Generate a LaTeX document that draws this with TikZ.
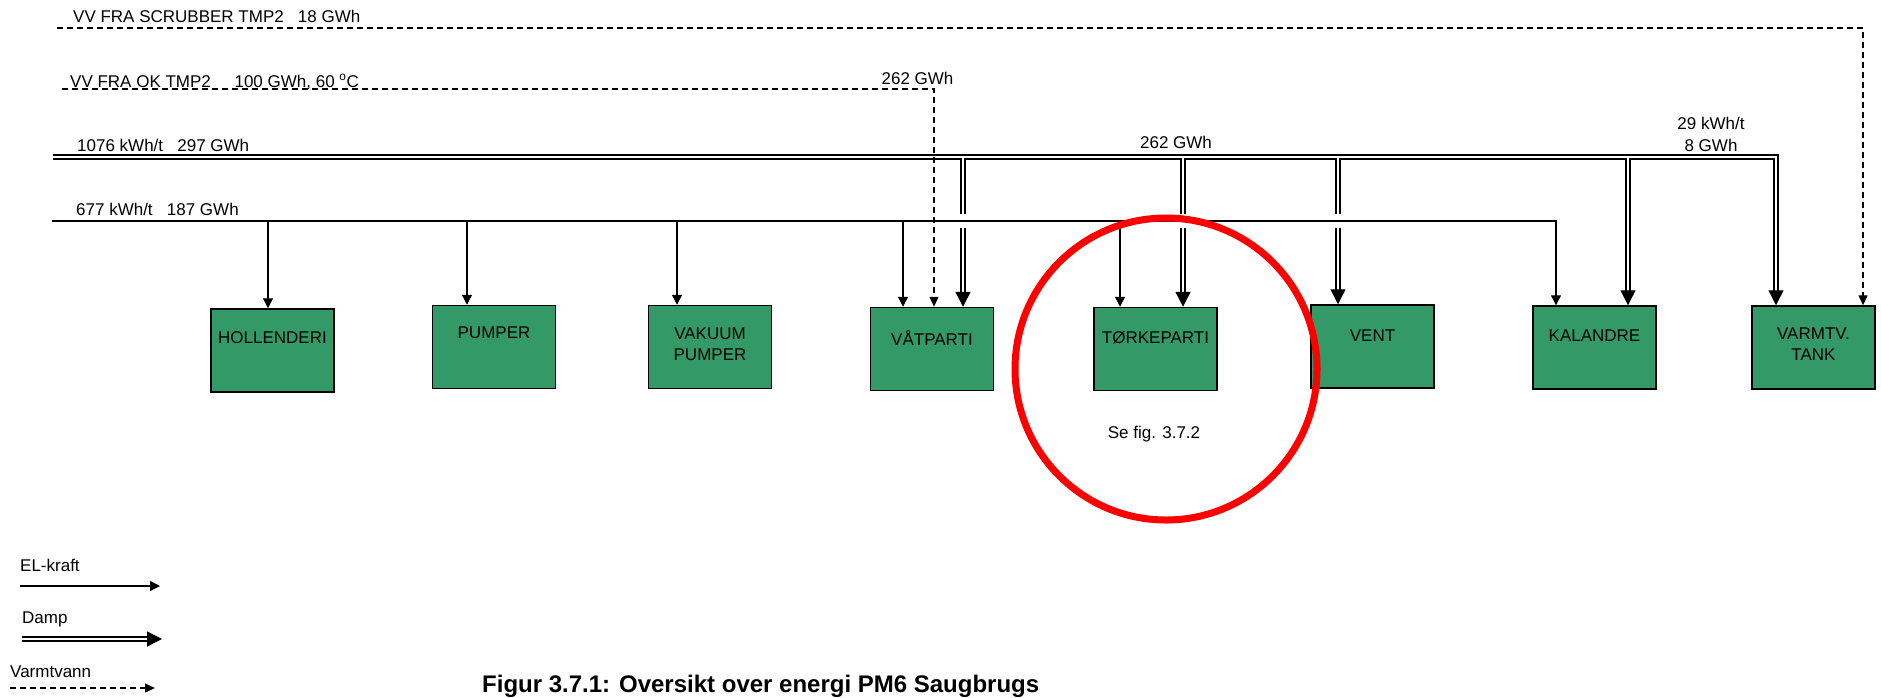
\documentclass[tikz,border=0pt]{standalone}
\usepackage{fontspec}
\setmainfont{Liberation Sans}
\usetikzlibrary{arrows.meta,calc}
\definecolor{boxgreen}{RGB}{51,153,102}
\definecolor{ringred}{RGB}{255,0,0}
\begin{document}
\begin{tikzpicture}[x=1pt,y=-1pt,
  lbl/.style={font=\fontsize{17}{20}\selectfont, inner sep=0pt},
  box/.style={draw=black, line width=1.5pt, fill=boxgreen, minimum width=123pt, minimum height=83pt, inner sep=0pt},
  boxtext/.style={font=\fontsize{17}{21}\selectfont, inner sep=0pt, align=center},
  elline/.style={line width=1.3pt},
  elarrow/.style={elline, -{Triangle[length=10pt,width=10pt]}},
  steamline/.style={double, line width=1.3pt, double distance=2.7pt},
  steamarrow/.style={steamline, -{Triangle[length=15pt,width=15pt]}},
  vvline/.style={line width=1.3pt, dash pattern=on 6pt off 4pt},
  vvarrow/.style={vvline, -{Triangle[length=10pt,width=9pt]}},
]
\useasboundingbox (0,0) rectangle (1881,697);

% boxes
\node[box] (hol) at (272.5,350.5) {};
\node[box] (pum) at (494,347) {};
\node[box] (vak) at (710,347) {};
\node[box] (vat) at (932,349) {};
\node[box] (tor) at (1155.5,349) {};
\node[box] (ven) at (1372.5,346.5) {};
\node[box] (kal) at (1594.5,347.5) {};
\node[box] (vt) at (1813.5,347.5) {};

\node[boxtext] (holt) at ($(hol.north)+(0,29)$) {HOLLENDERI};
\node[boxtext] (pumt) at ($(pum.north)+(0,28)$) {PUMPER};
\node[boxtext] (vakt) at ($(vak.north)+(0,39.5)$) {VAKUUM\\PUMPER};
\node[boxtext] (vatt) at ($(vat.north)+(0,31)$) {VÅTPARTI};
\node[boxtext] (tort) at ($(tor.north)+(0,31)$) {TØRKEPARTI};
\node[boxtext] (vent) at ($(ven.north)+(0,31)$) {VENT};
\node[boxtext] (kalt) at ($(kal.north)+(0,30)$) {KALANDRE};
\node[boxtext] (vtt) at ($(vt.north)+(0,38.5)$) {VARMTV.\\TANK};

% labels
\node[lbl, anchor=base west] (scrl) at (73,22) {VV FRA SCRUBBER TMP2~~~18 GWh};
\node[lbl, anchor=base west] (okl) at (70,87) {VV FRA OK TMP2~~~~~100 GWh, 60 \textsuperscript{o}C};
\node[lbl, anchor=base west] (stl) at (77,151) {1076 kWh/t~~~297 GWh};
\node[lbl, anchor=base west] (ell) at (76,215) {677 kWh/t~~~187 GWh};
\node[lbl, anchor=base] (okv) at (917.5,84) {262 GWh};
\node[lbl, anchor=base] (stv) at (1176,148) {262 GWh};
\node[lbl, align=center, font=\fontsize{17}{22}\selectfont] (vtv) at (1711,134) {29 kWh/t\\8 GWh};
\node[lbl, anchor=base] (sef) at (1154,438) {Se fig. 3.7.2};

% main lines
\coordinate (st0) at (53,157);
\coordinate (st1) at (1776,157);
\draw[steamarrow] (st0) -- (st1) -- (st1 |- vt.north);

\coordinate (el0) at (52,221);
\coordinate (el1) at (1556,221);
\draw[elarrow] (el0) -- (el1) -- (el1 |- kal.north);

\coordinate (sc0) at (57,28);
\coordinate (sc1) at (1863,28);
\draw[vvarrow] (sc0) -- (sc1) -- (sc1 |- vt.north);

\coordinate (ok0) at (62,89);
\coordinate (ok1) at (934,89);
\draw[vvarrow] (ok0) -- (ok1) -- (ok1 |- vat.north);

% el drops
\coordinate (eh) at (268,221);
\coordinate (ep) at (467,221);
\coordinate (ev) at (677,221);
\coordinate (ew) at (903,221);
\coordinate (et) at (1120,221);
\draw[elarrow] (eh) -- (eh |- hol.north);
\draw[elarrow] (ep) -- (ep |- pum.north);
\draw[elarrow] (ev) -- (ev |- vak.north);
\draw[elarrow] (ew) -- (ew |- vat.north);
\draw[elarrow] (et) -- (et |- tor.north);

% steam drops
\coordinate (sw) at (963,157);
\coordinate (stt) at (1183,157);
\coordinate (sv) at (1338,157);
\coordinate (sk) at (1628,157);
\draw[steamline] ($(sw)+(0,1.3)$) -- ($(sw)+(0,57)$);
\draw[steamarrow] ($(sw)+(0,71)$) -- (sw |- vat.north);
\draw[steamline] ($(stt)+(0,1.3)$) -- ($(stt)+(0,57)$);
\draw[steamarrow] ($(stt)+(0,71)$) -- (stt |- tor.north);
\draw[steamline] ($(sv)+(0,1.3)$) -- ($(sv)+(0,57)$);
\draw[steamarrow] ($(sv)+(0,71)$) -- (sv |- ven.north);
\draw[steamarrow] ($(sk)+(0,1.3)$) -- (sk |- kal.north);

% legend
\node[lbl, anchor=base west] (lel) at (20,571) {EL-kraft};
\node[lbl, anchor=base west] (ldp) at (22,623) {Damp};
\node[lbl, anchor=base west] (lvv) at (10,677) {Varmtvann};
\coordinate (a1) at (20,586);
\coordinate (b1) at (160,586);
\draw[elarrow] (a1) -- (b1);
\coordinate (a2) at (22,639);
\coordinate (b2) at (162,639);
\draw[steamarrow] (a2) -- (b2);
\coordinate (a3) at (10,688);
\coordinate (b3) at (155,688);
\draw[vvarrow] (a3) -- (b3);

% caption
\node[font=\fontsize{24}{28}\selectfont\bfseries, anchor=base west, inner sep=0pt] (cap) at (482,692) {Figur 3.7.1: Oversikt over energi PM6 Saugbrugs};

% red ring
\node[draw=ringred, line width=7pt, circle, minimum size=302pt, inner sep=0pt] (ring) at (1166,369) {};
\end{tikzpicture}
\end{document}
